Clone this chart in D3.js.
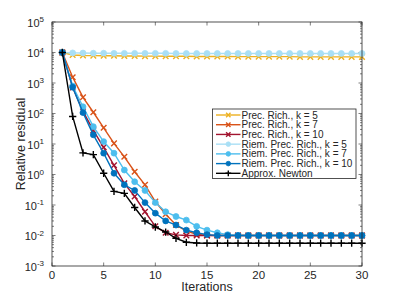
<!DOCTYPE html>
<html>
<head>
<meta charset="utf-8">
<style>
  body { margin: 0; background: #fff; }
  svg text { font-family: "Liberation Sans", Arial, sans-serif; fill: #262626; }
</style>
</head>
<body>
<svg width="399" height="299"></svg>
<script src="https://cdn.jsdelivr.net/npm/d3@7"></script>
<script>
// iteration numbers
var iterations = d3.range(1, 31);

// residuals per method
var precRich5 = [1e4, 8300, 8000, 7900, 7800, 7800, 7700, 7700, 7600, 7600, 7500, 7500, 7500, 7400, 7400,
  7400, 7400, 7300, 7300, 7300, 7300, 7300, 7300, 7200, 7200, 7200, 7200, 7200, 7200, 7200];
var precRich7 = [1e4, 1550, 340, 110, 34, 10.5, 3.8, 1.23, 0.46, 0.13, 0.050, 0.022, 0.014, 0.011, 0.0101,
  0.0100, 0.0100, 0.0100, 0.0100, 0.0100, 0.0100, 0.0100, 0.0100, 0.0100, 0.0100, 0.0100, 0.0100, 0.0100, 0.0100, 0.0100];
var precRich10 = [1e4, 708, 117, 28, 7.8, 2.0, 0.51, 0.19, 0.060, 0.020, 0.0123, 0.0105, 0.0100, 0.0100, 0.0100,
  0.0100, 0.0100, 0.0100, 0.0100, 0.0100, 0.0100, 0.0100, 0.0100, 0.0100, 0.0100, 0.0100, 0.0100, 0.0100, 0.0100, 0.0100];
var riem5 = [1e4, 9700, 9600, 9500, 9500, 9400, 9400, 9400, 9400, 9400, 9400, 9300, 9300, 9300, 9300,
  9300, 9300, 9300, 9300, 9300, 9300, 9300, 9300, 9300, 9300, 9300, 9300, 9300, 9300, 9300];
var riem7 = [1e4, 794, 166, 37, 12, 5.0, 1.4, 0.58, 0.30, 0.12, 0.060, 0.042, 0.032, 0.020, 0.015,
  0.0123, 0.0107, 0.0101, 0.0100, 0.0100, 0.0100, 0.0100, 0.0100, 0.0100, 0.0100, 0.0100, 0.0100, 0.0100, 0.0100, 0.0100];
var riem10 = [1e4, 724, 107, 20, 5.0, 1.1, 0.46, 0.30, 0.12, 0.054, 0.030, 0.022, 0.015, 0.0123, 0.0107,
  0.0100, 0.0100, 0.0100, 0.0100, 0.0100, 0.0100, 0.0100, 0.0100, 0.0100, 0.0100, 0.0100, 0.0100, 0.0100, 0.0100, 0.0100];
var newton = [1e4, 80, 5.1, 4.5, 1.1, 0.28, 0.24, 0.083, 0.030, 0.019, 0.013, 0.0081, 0.0060, 0.0057, 0.0056,
  0.0056, 0.0056, 0.0056, 0.0056, 0.0056, 0.0056, 0.0056, 0.0056, 0.0056, 0.0056, 0.0056, 0.0056, 0.0056, 0.0056, 0.0056];

var seriesNames = ["Prec. Rich., k = 5", "Prec. Rich., k = 7", "Prec. Rich., k = 10",
  "Riem. Prec. Rich., k = 5", "Riem. Prec. Rich., k = 7", "Riem. Prec. Rich., k = 10", "Approx. Newton"];
var seriesValues = [precRich5, precRich7, precRich10, riem5, riem7, riem10, newton];
var seriesColors = ["#edb120", "#d95319", "#a2142f", "#a9dff5", "#4dbeee", "#0072bd", "#000000"];
var seriesMarkers = ["x", "x", "x", "o", "o", "o", "+"];

var xTicks = [0, 5, 10, 15, 20, 25, 30];
var yExponents = [-3, -2, -1, 0, 1, 2, 3, 4, 5];

var svg = d3.select("svg"),
    pLeft = 52, pRight = 362, pTop = 22, pBottom = 266;

var x = d3.scaleLinear().domain([0, 30]).range([pLeft, pRight]);
var y = d3.scaleLog().domain([1e-3, 1e5]).range([pBottom, pTop]);

// minor and major ticks on the y axes (inward, both sides)
var minor = [];
yExponents.slice(0, -1).forEach(function(e) {
  for (var m = 2; m < 10; m++) minor.push(m * Math.pow(10, e));
});
var axisG = svg.append("g").attr("stroke", "#262626").attr("stroke-width", 0.6);
minor.forEach(function(v) {
  axisG.append("line").attr("x1", pLeft).attr("x2", pLeft + 2).attr("y1", y(v)).attr("y2", y(v));
  axisG.append("line").attr("x1", pRight).attr("x2", pRight - 2).attr("y1", y(v)).attr("y2", y(v));
});
yExponents.forEach(function(e) {
  var v = Math.pow(10, e);
  axisG.append("line").attr("x1", pLeft).attr("x2", pLeft + 3.5).attr("y1", y(v)).attr("y2", y(v));
  axisG.append("line").attr("x1", pRight).attr("x2", pRight - 3.5).attr("y1", y(v)).attr("y2", y(v));
});
xTicks.forEach(function(t) {
  axisG.append("line").attr("x1", x(t)).attr("x2", x(t)).attr("y1", pBottom).attr("y2", pBottom - 3.5);
  axisG.append("line").attr("x1", x(t)).attr("x2", x(t)).attr("y1", pTop).attr("y2", pTop + 3.5);
});

// y tick labels 10^e
yExponents.forEach(function(e) {
  var t = svg.append("text")
    .attr("x", 44).attr("y", y(Math.pow(10, e)) + 4.5)
    .attr("text-anchor", "end")
    .style("font-size", "11px");
  t.append("tspan").text("10");
  t.append("tspan").attr("dy", -4.5).style("font-size", "8px").text(String(e));
});

// x tick labels
svg.selectAll(".xt").data(xTicks).enter().append("text")
  .attr("class", "xt")
  .attr("x", function(d) { return x(d); })
  .attr("y", pBottom + 12.5)
  .attr("text-anchor", "middle")
  .style("font-size", "11.5px")
  .text(function(d) { return d; });

svg.append("text")
  .attr("x", (pLeft + pRight) / 2).attr("y", 291)
  .attr("text-anchor", "middle")
  .style("font-size", "12.5px")
  .text("Iterations");

svg.append("text")
  .attr("transform", "translate(24.5," + ((pTop + pBottom) / 2) + ") rotate(-90)")
  .attr("text-anchor", "middle")
  .style("font-size", "12.5px")
  .text("Relative residual");

function drawMarker(g, type, cx, cy, color, s) {
  if (type === "o") {
    g.append("circle").attr("cx", cx).attr("cy", cy).attr("r", s * 1.05)
      .attr("fill", color).attr("stroke", color).attr("stroke-width", 0.8);
  } else if (type === "x") {
    g.append("path").attr("d", "M" + (cx - s) + "," + (cy - s) + "L" + (cx + s) + "," + (cy + s) +
      "M" + (cx - s) + "," + (cy + s) + "L" + (cx + s) + "," + (cy - s))
      .attr("stroke", color).attr("stroke-width", 1.4);
  } else {
    var p = s * 1.3;
    g.append("path").attr("d", "M" + (cx - p) + "," + cy + "L" + (cx + p) + "," + cy +
      "M" + cx + "," + (cy - p) + "L" + cx + "," + (cy + p))
      .attr("stroke", color).attr("stroke-width", 1.4);
  }
}

var line = d3.line()
  .x(function(d, i) { return x(iterations[i]); })
  .y(function(d) { return y(d); });

var plot = svg.append("g");
seriesValues.forEach(function(vals, k) {
  var g = plot.append("g");
  g.append("path").attr("d", line(vals))
    .attr("fill", "none").attr("stroke", seriesColors[k]).attr("stroke-width", 1.4);
  vals.forEach(function(v, i) {
    drawMarker(g, seriesMarkers[k], x(iterations[i]), y(v), seriesColors[k], 2.8);
  });
});

// box
svg.append("rect").attr("x", pLeft).attr("y", pTop)
  .attr("width", pRight - pLeft).attr("height", pBottom - pTop)
  .attr("fill", "none").attr("stroke", "#262626").attr("stroke-width", 0.8);

// legend
var lg = svg.append("g");
lg.append("rect").attr("x", 212.5).attr("y", 109).attr("width", 143.5).attr("height", 69.5)
  .attr("fill", "#fff").attr("stroke", "#262626").attr("stroke-width", 0.8);
seriesNames.forEach(function(name, k) {
  var cy = 115 + k * 9.72;
  lg.append("line").attr("x1", 216).attr("x2", 240.5).attr("y1", cy).attr("y2", cy)
    .attr("stroke", seriesColors[k]).attr("stroke-width", 1.4);
  drawMarker(lg, seriesMarkers[k], 228.3, cy, seriesColors[k], 2.2);
  lg.append("text").attr("x", 241.5).attr("y", cy + 3.5)
    .style("font-size", "10px").text(name);
});
</script>
</body>
</html>
